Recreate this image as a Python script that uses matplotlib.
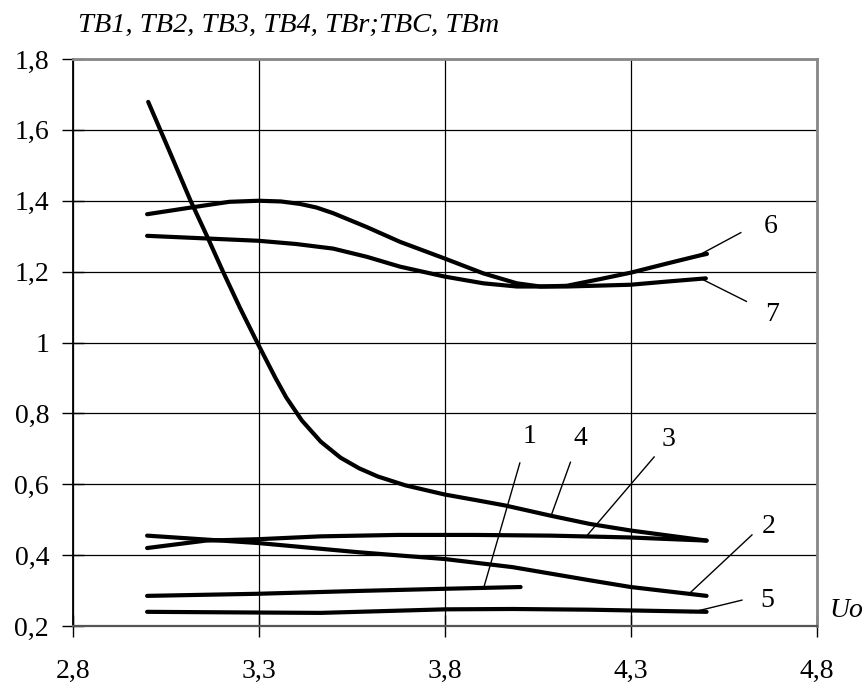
import matplotlib
matplotlib.use("Agg")
import matplotlib.pyplot as plt

plt.rcParams['font.family'] = ['Liberation Serif', 'DejaVu Serif']

# ---- data ----
x_ticks = [2.8, 3.3, 3.8, 4.3, 4.8]
x_tick_labels = ["2,8", "3,3", "3,8", "4,3", "4,8"]
y_ticks = [0.2, 0.4, 0.6, 0.8, 1.0, 1.2, 1.4, 1.6, 1.8]
y_tick_labels = ["0,2", "0,4", "0,6", "0,8", "1", "1,2", "1,4", "1,6", "1,8"]

c1_x = [3.0, 3.3, 3.57, 3.8, 4.004]
c1_y = [0.285, 0.291, 0.299, 0.305, 0.310]

c2_x = [3.0, 3.3, 3.57, 3.8, 3.983, 4.19, 4.3, 4.504]
c2_y = [0.455, 0.434, 0.408, 0.389, 0.366, 0.329, 0.310, 0.285]

c3_x = [3.0, 3.158, 3.3, 3.467, 3.674, 3.88, 4.086, 4.293, 4.504]
c3_y = [0.420, 0.441, 0.445, 0.453, 0.457, 0.457, 0.455, 0.450, 0.441]

c4_x = [3.003, 3.06, 3.116, 3.162, 3.204, 3.25, 3.296, 3.345, 3.374, 3.416,
        3.467, 3.52, 3.570, 3.62, 3.694, 3.80, 3.88, 3.963, 4.086, 4.19, 4.303, 4.504]
c4_y = [1.679, 1.540, 1.402, 1.298, 1.200, 1.097, 1.000, 0.900, 0.845, 0.780,
        0.720, 0.675, 0.645, 0.622, 0.597, 0.571, 0.556, 0.540, 0.511, 0.488, 0.469, 0.441]

c5_x = [3.0, 3.3, 3.467, 3.8, 3.983, 4.19, 4.504]
c5_y = [0.240, 0.238, 0.237, 0.247, 0.248, 0.246, 0.240]

c6_x = [3.0, 3.131, 3.221, 3.3, 3.36, 3.411, 3.455, 3.50, 3.59, 3.68, 3.80, 3.904,
        3.994, 4.057, 4.128, 4.218, 4.30, 4.398, 4.487, 4.505]
c6_y = [1.362, 1.383, 1.397, 1.400, 1.398, 1.391, 1.381, 1.365, 1.326, 1.284, 1.237, 1.195,
        1.167, 1.158, 1.160, 1.179, 1.197, 1.223, 1.246, 1.250]

c7_x = [3.0, 3.3, 3.40, 3.50, 3.59, 3.68, 3.80, 3.904, 3.994, 4.128, 4.30, 4.398, 4.502]
c7_y = [1.301, 1.287, 1.278, 1.265, 1.242, 1.214, 1.186, 1.167, 1.158, 1.158, 1.163, 1.172, 1.181]

# curve labels: (text, label x, label y, leader start x, y, leader end x, y)
labels = [
    ("1", 4.027, 0.735, 3.906, 0.312, 4.002, 0.660),
    ("4", 4.166, 0.730, 4.086, 0.511, 4.138, 0.662),
    ("3", 4.401, 0.725, 4.184, 0.457, 4.363, 0.677),
    ("2", 4.672, 0.480, 4.460, 0.294, 4.626, 0.457),
    ("5", 4.668, 0.273, 4.462, 0.238, 4.599, 0.273),
    ("6", 4.677, 1.328, 4.470, 1.239, 4.596, 1.310),
    ("7", 4.679, 1.080, 4.493, 1.178, 4.611, 1.116),
]

title = "TB1, TB2, TB3, TB4, TBr;TBC, TBm"
xlabel = "Uo"

# ---- figure ----
fig = plt.figure(figsize=(8.65, 6.86), dpi=100)
ax = fig.add_axes([72.7 / 865, 1 - 626 / 686, (816.7 - 72.7) / 865, (626 - 59) / 686])
ax.set_xlim(2.8, 4.8)
ax.set_ylim(0.2, 1.8)

ax.set_xticks(x_ticks)
ax.set_xticklabels(x_tick_labels)
ax.set_yticks(y_ticks)
ax.set_yticklabels(y_tick_labels)
ax.tick_params(axis='both', direction='inout', length=16, width=1.0, color='black',
               labelsize=20)
ax.tick_params(axis='x', pad=16)
ax.tick_params(axis='y', pad=9)

ax.grid(True, color='black', linewidth=0.9)
ax.set_axisbelow(True)

for side in ['top', 'right']:
    ax.spines[side].set_color('#888888')
    ax.spines[side].set_linewidth(2.0)
ax.spines['left'].set_color('black')
ax.spines['left'].set_linewidth(1.3)
ax.spines['bottom'].set_color('#555555')
ax.spines['bottom'].set_linewidth(1.6)

for xs, ys in [(c1_x, c1_y), (c2_x, c2_y), (c3_x, c3_y), (c4_x, c4_y),
               (c5_x, c5_y), (c6_x, c6_y), (c7_x, c7_y)]:
    ax.plot(xs, ys, color='black', linewidth=3.0, solid_capstyle='round',
            solid_joinstyle='round')

for txt, lx, ly, sx, sy, ex, ey in labels:
    ax.plot([sx, ex], [sy, ey], color='black', linewidth=1.0)
    ax.text(lx, ly, txt, fontsize=20, ha='center', va='center')

ax.text(4.879, 0.245, xlabel, fontsize=20, style='italic', ha='center', va='center',
        clip_on=False)
fig.text(78 / 865, 1 - 25 / 686, title, fontsize=20.5, style='italic',
         ha='left', va='center')

fig.savefig("out.png", dpi=100)
